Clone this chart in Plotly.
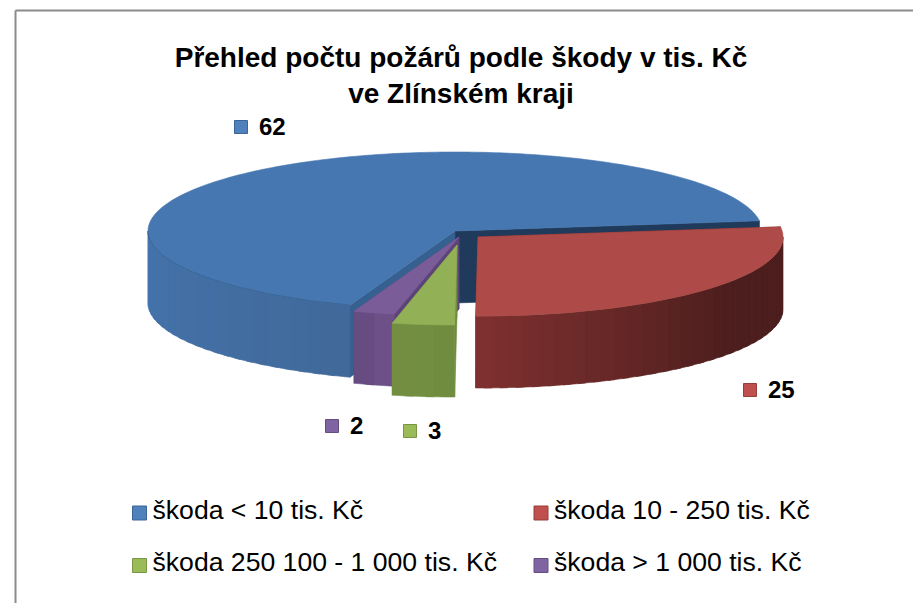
import math
import plotly.graph_objects as go

# ---- data ----
categories = ["škoda < 10 tis. Kč", "škoda 10 - 250 tis. Kč",
              "škoda 250 100 - 1 000 tis. Kč", "škoda > 1 000 tis. Kč"]
values = [62, 25, 3, 2]

# ---- style / layout constants (pixel space of the chart) ----
W, H = 913, 603
FONT = "Liberation Sans, Arial, sans-serif"
FIRST_ANGLE = 200.0
DEPTH = 72
# per slice: centre x, centre y, rx, ry (exploded geometry)
geom = [(455, 231, 307, 79), (478, 237, 305, 79), (457, 245, 307, 80), (459, 237, 307, 79)]
top_col = ["#4677b0", "#ae4a47", "#92b055", "#7a5d98"]
wall_from = ["#4474ad", "#7e3130", "#6f8c3e", "#6e5289"]
wall_to = ["#41699a", "#4c1e1d", "#748f42", "#654a80"]
start_wall_col = ["#35608f", "#7e3130", "#6f8c3e", "#5d4478"]   # cut at start angle
end_wall_col = ["#1f3a5a", "#7e3130", "#6f8c3e", "#5d4478"]     # cut at end angle
mark_col = ["#4f81bd", "#c0504d", "#9bbb59", "#8064a2"]
mark_edge = ["#3c6596", "#963e3b", "#7a9446", "#644e80"]
label_pos = [(241, 127), (750, 390), (410, 431), (332, 426)]
legend_pos = [(139.5, 513), (541, 513), (139.5, 565.5), (541, 565.5)]


def hex_mix(a, b, t):
    pa = [int(a[i:i + 2], 16) for i in (1, 3, 5)]
    pb = [int(b[i:i + 2], 16) for i in (1, 3, 5)]
    return "rgb(%d,%d,%d)" % tuple(round(p + (q - p) * t) for p, q in zip(pa, pb))


def pt(g, ang, dz=0):
    cx, cy, rx, ry = g
    r = math.radians(ang)
    return cx + rx * math.sin(r), cy - ry * math.cos(r) + dz


def arc(g, a0, a1, dz=0, step=1.0):
    n = max(2, int(abs(a1 - a0) / step) + 1)
    return [pt(g, a0 + (a1 - a0) * i / (n - 1), dz) for i in range(n)]


fig = go.Figure()


def poly(points, color, name):
    xs = [p[0] for p in points] + [points[0][0]]
    ys = [p[1] for p in points] + [points[0][1]]
    fig.add_trace(go.Scatter(x=xs, y=ys, mode="lines", fill="toself", fillcolor=color,
                             line=dict(color=color, width=0.6, simplify=False),
                             hoverinfo="skip", showlegend=False, name=name))


# angles of the slices come from the values
total = sum(values)
spans = []
a = FIRST_ANGLE
for v in values:
    sweep = v / total * 360
    spans.append((a, a + sweep))
    a = (a + sweep) % 360


def draw_slice(i):
    g = geom[i]
    a0, a1 = spans[i]
    name = categories[i]
    apex = (g[0], g[1])
    apex_low = (g[0], g[1] + DEPTH)
    # cut walls
    p0, p1 = pt(g, a0), pt(g, a1)
    poly([apex, p1, (p1[0], p1[1] + DEPTH), apex_low], end_wall_col[i], name)
    poly([apex, p0, (p0[0], p0[1] + DEPTH), apex_low], start_wall_col[i], name)
    # outer wall: only the part that faces the viewer (90..270 degrees)
    lo, hi = max(a0, 90), min(a1, 270)
    if hi > lo:
        n = max(1, int((hi - lo) / 3.0))
        span_ref = hi - lo
        for k in range(n):
            b0 = lo + span_ref * k / n
            b1 = lo + span_ref * (k + 1) / n
            mid = (b0 + b1) / 2
            if i == 1:   # red gets dark quickly toward the right
                t = min(1, (hi - mid) / 55)
            elif i == 0:
                t = (hi - mid) / span_ref
            else:
                t = (mid - lo) / span_ref
            b2 = min(b1 + 1.5, hi)   # overlap hides seams between bands
            poly(arc(g, b0, b2) + arc(g, b2, b0, DEPTH), hex_mix(wall_from[i], wall_to[i], t), name)
    # top face
    poly([apex] + arc(g, a0, a1), top_col[i], name)
    # soft rim where the top meets the front wall
    if hi > lo and i in (0, 1):
        rim = arc(g, lo, hi)
        fig.add_trace(go.Scatter(x=[p[0] for p in rim], y=[p[1] for p in rim], mode="lines",
                                 line=dict(color="#3a6596" if i == 0 else "#a9504c", width=1),
                                 hoverinfo="skip", showlegend=False, name=name))


for i in (0, 3, 2, 1):
    draw_slice(i)

# data labels
fig.add_trace(go.Scatter(x=[p[0] for p in label_pos], y=[p[1] for p in label_pos], mode="markers",
                         marker=dict(symbol="square", size=13, color=mark_col,
                                     line=dict(color=mark_edge, width=1)),
                         hoverinfo="skip", showlegend=False, name="data label keys"))
fig.add_trace(go.Scatter(x=[p[0] + 18 for p in label_pos], y=[p[1] + 2 for p in label_pos],
                         mode="text", text=[str(v) for v in values], textposition="middle right",
                         textfont=dict(family=FONT, size=24, color="#000000", weight="bold"),
                         hoverinfo="skip", showlegend=False, name="data labels"))
# legend
fig.add_trace(go.Scatter(x=[p[0] for p in legend_pos], y=[p[1] for p in legend_pos], mode="markers",
                         marker=dict(symbol="square", size=14, color=mark_col,
                                     line=dict(color=mark_edge, width=1)),
                         hoverinfo="skip", showlegend=False, name="legend keys"))
fig.add_trace(go.Scatter(x=[p[0] + 13 for p in legend_pos], y=[p[1] - 1 for p in legend_pos], mode="text",
                         text=categories, textposition="middle right",
                         textfont=dict(family=FONT, size=26.6, color="#000000"),
                         hoverinfo="skip", showlegend=False, name="legend labels"))

fig.update_layout(
    width=W, height=H, margin=dict(l=0, r=0, t=0, b=0),
    paper_bgcolor="#ffffff", plot_bgcolor="#ffffff", showlegend=False,
    title=dict(text="Přehled počtu požárů podle škody v tis. Kč<br>ve Zlínském kraji",
               x=461 / W, xanchor="center", y=1 - 66.5 / H, yanchor="top", yref="container",
               font=dict(family=FONT, size=28, color="#000000", weight="bold")),
    xaxis=dict(range=[0, W], visible=False, fixedrange=True, domain=[0, 1]),
    yaxis=dict(range=[H, 0], visible=False, fixedrange=True, domain=[0, 1]),
    shapes=[dict(type="line", xref="x", yref="y", x0=15.5, y0=10.5, x1=15.5, y1=H,
                 line=dict(color="#8c8c8c", width=2)),
            dict(type="line", xref="x", yref="y", x0=15.5, y0=10.5, x1=W, y1=10.5,
                 line=dict(color="#8c8c8c", width=2))],
)
fig.write_html("out.html", post_script="document.body.style.margin='0';",
               config={"displayModeBar": False})
